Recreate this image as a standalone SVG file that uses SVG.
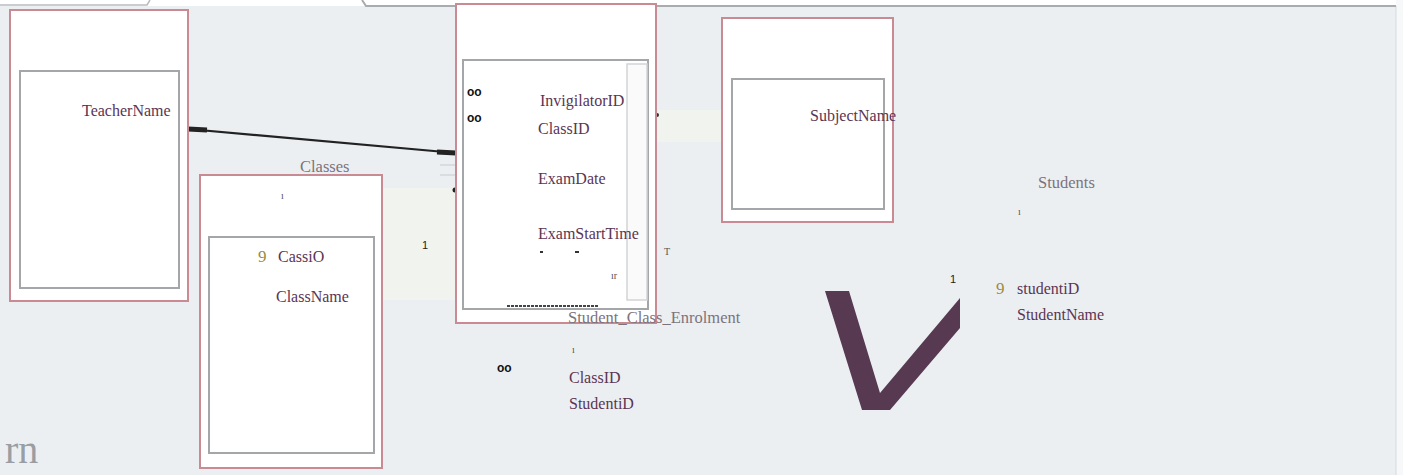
<svg xmlns="http://www.w3.org/2000/svg" width="1403" height="475" viewBox="0 0 1403 475">
<style>
.bg{fill:#eceff2}
.outer{fill:#ffffff;stroke:#c98a94;stroke-width:2}
.inner{fill:#ffffff;stroke:#a3a7a9;stroke-width:2}
.f{font-family:"Liberation Serif","Times New Roman",serif;fill:#5b3553;font-size:16px}
.g{font-family:"Liberation Serif","Times New Roman",serif;fill:#7d737b;font-size:16.5px}
.gold{font-family:"Liberation Serif","Times New Roman",serif;fill:#a08a40;font-size:17px}
.s{font-family:"Liberation Sans",Arial,sans-serif;fill:#111;font-weight:bold;font-size:12px}
.n{font-family:"Liberation Sans",Arial,sans-serif;fill:#222;font-size:11px}
.tick{font-family:"Liberation Serif",serif;fill:#555;font-size:10px}
.conn{stroke:#222;fill:none}
.faint{fill:#f1f4ee}
</style>
<rect class="bg" x="0" y="0" width="1403" height="475"/>
<rect x="0" y="0" width="1403" height="6" fill="#ffffff"/>
<rect x="1396" y="0" width="7" height="475" fill="#f7f8f9"/>
<line x1="1396" y1="6" x2="1396" y2="475" stroke="#d6d9dc" stroke-width="1"/>
<path d="M0 5 H147 L150 0" fill="none" stroke="#b9bcbf" stroke-width="1.5"/>
<path d="M362 0 L366 6 H1396" fill="none" stroke="#a9acaf" stroke-width="2"/>
<rect class="faint" x="383" y="188" width="72" height="112"/>
<rect class="faint" x="657" y="110" width="65" height="32"/>

<g id="connectors">
<line class="conn" x1="188" y1="129" x2="456" y2="153" stroke-width="2.2"/>
<line class="conn" x1="188" y1="129" x2="207" y2="130" stroke-width="5"/>
<line class="conn" x1="437" y1="152" x2="456" y2="153" stroke-width="5"/>
<line x1="440" y1="165" x2="455" y2="165" stroke="#d9dce0" stroke-width="2"/>
<line x1="440" y1="175" x2="455" y2="175" stroke="#d9dce0" stroke-width="2"/>
<circle cx="455" cy="190" r="2.5" fill="#222"/>
<circle cx="657" cy="115" r="2" fill="#333"/>
<circle cx="723" cy="137" r="2" fill="#333"/>
</g>

<g id="teachers">
<rect class="outer" x="10" y="10" width="178" height="291"/>
<rect class="inner" x="20" y="71" width="159" height="217"/>
<text class="f" x="82" y="116">TeacherName</text>
</g>

<g id="classes">
<text class="g" x="300" y="172">Classes</text>
<rect class="outer" x="200" y="175" width="182" height="293"/>
<rect class="inner" x="209" y="237" width="165" height="216"/>
<text class="tick" x="281" y="199">ı</text>
<text class="gold" x="258" y="262">9</text>
<text class="f" x="278" y="262">CassiO</text>
<text class="f" x="276" y="302">ClassName</text>
</g>

<text class="n" x="422" y="249">1</text>

<g id="exam-timetable">
<rect class="outer" x="456" y="4" width="200" height="319"/>
<rect class="inner" x="463" y="60" width="185" height="249"/>
<rect x="627" y="64" width="20" height="236" fill="#fafafa" stroke="#d2d4d6" stroke-width="1.5"/>
<text class="s" x="467" y="96">oo</text>
<text class="s" x="467" y="122">oo</text>
<text class="f" x="540" y="106">InvigilatorID</text>
<text class="f" x="538" y="134">ClassID</text>
<text class="f" x="538" y="184">ExamDate</text>
<text class="f" x="538" y="239">ExamStartTime</text>
<rect x="540" y="251" width="3" height="2" fill="#333"/>
<rect x="575" y="251" width="4" height="2" fill="#333"/>
<text class="tick" x="611" y="279" font-size="8">ır</text>
<line x1="507" y1="306" x2="598" y2="306" stroke="#444" stroke-width="2" stroke-dasharray="3 1"/>
</g>
<text class="tick" x="664" y="255" font-size="9">T</text>

<g id="student-class-enrolment">
<text class="g" x="568" y="323">Student_Class_Enrolment</text>
<text class="tick" x="572" y="353">ı</text>
<text class="s" x="497" y="372">oo</text>
<text class="f" x="569" y="383">ClassID</text>
<text class="f" x="569" y="409">StudentiD</text>
</g>

<g id="subjects">
<rect class="outer" x="722" y="18" width="171" height="204"/>
<rect class="inner" x="732" y="79" width="152" height="130"/>
<text class="f" x="810" y="121">SubjectName</text>
</g>

<polygon points="825,291 849,291 880,393 960,298 960,328 890,410 862,410" fill="#573a52"/>
<text class="n" x="950" y="283">1</text>

<g id="students">
<text class="g" x="1038" y="188">Students</text>
<text class="tick" x="1018" y="215">ı</text>
<text class="gold" x="996" y="294">9</text>
<text class="f" x="1017" y="294">studentiD</text>
<text class="f" x="1017" y="320">StudentName</text>
</g>

<text x="5" y="463" font-family="'Liberation Serif','Times New Roman',serif" font-size="40" fill="#9a9ea3">rn</text>
</svg>
